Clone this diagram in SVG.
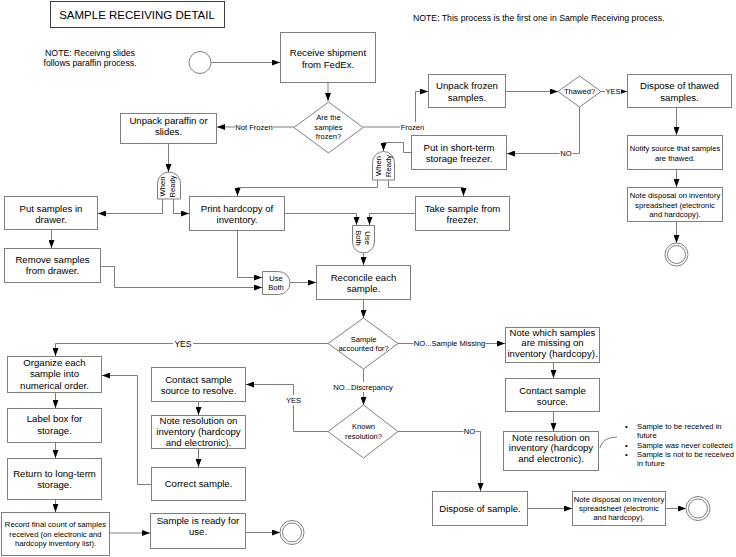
<svg xmlns="http://www.w3.org/2000/svg" width="736" height="557" viewBox="0 0 736 557">
<style>
.box{fill:#fff;stroke:#7f7f7f;stroke-width:1}
.ttl{fill:#fff;stroke:#404040;stroke-width:1}
.t{font-family:"Liberation Sans",Arial,sans-serif;font-size:9.6px;text-anchor:middle;fill:#000}
.s{font-size:7.6px}
.m{font-size:7.7px}
.n{font-family:"Liberation Sans",Arial,sans-serif;font-size:8.7px;fill:#000}
.c{fill:none;stroke:#7f7f7f;stroke-width:1}
.a{marker-end:url(#ah)}
.bg{fill:#fff}
</style>
<defs>
<marker id="ah" viewBox="0 0 8 6" refX="8" refY="3" markerWidth="8" markerHeight="6" markerUnits="userSpaceOnUse" orient="auto">
<path d="M0,0 L8,3 L0,6 Z" fill="#000"/>
</marker>
</defs>
<rect width="736" height="557" fill="#fff"/>

<g id="title">
<rect class="ttl" x="50.5" y="1.5" width="174" height="26"/>
<text class="t" x="137" y="18.5" style="font-size:11.5px">SAMPLE RECEIVING DETAIL</text>
</g>
<g id="note-top">
<text class="n" x="413" y="21">NOTE: This process is the first one in Sample Receiving process.</text>
</g>
<g id="note-left">
<text class="n" x="90" y="56.3" text-anchor="middle">NOTE: Receivng slides</text>
<text class="n" x="90" y="65.8" text-anchor="middle">follows paraffin process.</text>
</g>

<g id="connectors">
<path class="c a" d="M211,62.5 H280"/>
<path class="c a" d="M328,83 V101"/>
<path class="c a" d="M294,127 H217"/>
<path class="c a" d="M363,127 H415.5 V91.5 H428"/>
<path class="c a" d="M506,91.5 H558"/>
<path class="c a" d="M601,91.5 H627"/>
<path class="c a" d="M579.5,106 V153.5 H507"/>
<path class="c a" d="M411,152.5 H403.5 V142.5 H383.5 V151"/>
<path class="c a" d="M377.5,180 V187.5 H237.5 V196"/>
<path class="c a" d="M388.5,180 V187.5 H463.5 V196"/>
<path class="c a" d="M168.5,144 V172"/>
<path class="c a" d="M162.5,199 V213.5 H98"/>
<path class="c a" d="M173.5,199 V213.5 H189"/>
<path class="c a" d="M51.5,230 V248"/>
<path class="c a" d="M285,213.5 H356.5 V225"/>
<path class="c a" d="M415,213.5 H369.5 V225"/>
<path class="c a" d="M363.5,253 V265"/>
<path class="c a" d="M237.5,231 V277.5 H262"/>
<path class="c a" d="M101,266.5 H114.5 V287.5 H262"/>
<path class="c a" d="M290,282.5 H316"/>
<path class="c a" d="M363.5,300 V318"/>
<path class="c a" d="M328,343.5 H55.5 V356"/>
<path class="c a" d="M398,343.5 H505"/>
<path class="c a" d="M553.5,363 V378"/>
<path class="c a" d="M553.5,412 V431"/>
<path class="c" d="M600,448 C602,440 608,437.5 617,437"/>
<path class="c a" d="M363.5,369 V405"/>
<path class="c a" d="M328,431.5 H293.5 V384.5 H246"/>
<path class="c a" d="M398,431.5 H480.5 V491"/>
<path class="c a" d="M528,508.5 H572"/>
<path class="c a" d="M666,508.5 H686"/>
<path class="c a" d="M55.5,393 V408"/>
<path class="c a" d="M55.5,443 V458"/>
<path class="c a" d="M55.5,500 V512"/>
<path class="c a" d="M110,533 H150"/>
<path class="c a" d="M246,532.5 H280"/>
<path class="c a" d="M198.5,402 V415"/>
<path class="c a" d="M198.5,449 V467"/>
<path class="c a" d="M151,484.5 H137.5 V375.5 H102"/>
<path class="c a" d="M676.5,108 V135"/>
<path class="c a" d="M676.5,170 V187"/>
<path class="c a" d="M676.5,222 V243"/>

<rect class="bg" x="235" y="122" width="38" height="10"/>
<text class="t s" x="254" y="129.8">Not Frozen</text>
<rect class="bg" x="400" y="122" width="25" height="10"/>
<text class="t s" x="412.5" y="129.8">Frozen</text>
<rect class="bg" x="605" y="86.5" width="16" height="10"/>
<text class="t s" x="613" y="94.3">YES</text>
<rect class="bg" x="559.5" y="148.5" width="13" height="10"/>
<text class="t s" x="566" y="156.3">NO</text>
<rect class="bg" x="173" y="338" width="20" height="11"/>
<text class="t" x="183" y="346.5" style="font-size:8.6px">YES</text>
<rect class="bg" x="413.5" y="338.5" width="72" height="10"/>
<text class="t s" x="449.5" y="346.3">NO...Sample Missing</text>
<rect class="bg" x="333" y="382" width="60" height="10"/>
<text class="t s" x="363" y="389.8">NO...Discrepancy</text>
<rect class="bg" x="285.5" y="395" width="16" height="10"/>
<text class="t s" x="293.5" y="402.8">YES</text>
<rect class="bg" x="463.5" y="426" width="12" height="10"/>
<text class="t s" x="469.5" y="433.8">NO</text>
</g>

<g id="start">
<circle cx="200" cy="62.5" r="11" fill="#fff" stroke="#7f7f7f"/>
</g>
<g id="receive">
<rect class="box" x="280.5" y="32.5" width="95" height="50"/>
<text class="t" x="328" y="56.2">Receive shipment</text>
<text class="t" x="328" y="67.6">from FedEx.</text>
</g>
<g id="frozen-q">
<polygon class="box" points="328.5,102 363,127.5 328.5,153 294,127.5"/>
<text class="t s" x="328.5" y="120">Are the</text>
<text class="t s" x="328.5" y="129.5">samples</text>
<text class="t s" x="328.5" y="139">frozen?</text>
</g>
<g id="unpack-paraffin">
<rect class="box" x="120.5" y="113.5" width="96" height="30"/>
<text class="t" x="168.5" y="124.2">Unpack paraffin or</text>
<text class="t" x="168.5" y="135.2">slides.</text>
</g>
<g id="unpack-frozen">
<rect class="box" x="428.5" y="74.5" width="77" height="33"/>
<text class="t" x="467" y="88.6">Unpack frozen</text>
<text class="t" x="467" y="100.6">samples.</text>
</g>
<g id="thawed-q">
<polygon class="box" points="579.5,76 601,91.5 579.5,107 558,91.5"/>
<text class="t s" x="579.5" y="94.3">Thawed?</text>
</g>
<g id="dispose-thawed">
<rect class="box" x="627.5" y="74.5" width="104" height="33"/>
<text class="t" x="679.5" y="88.6">Dispose of thawed</text>
<text class="t" x="679.5" y="100.6">samples.</text>
</g>
<g id="notify">
<rect class="box" x="627.5" y="135.5" width="95" height="34"/>
<text class="t m" x="675" y="151.3">Notify source that samples</text>
<text class="t m" x="675" y="161">are thawed.</text>
</g>
<g id="note-disposal-top">
<rect class="box" x="627.5" y="187.5" width="95" height="34"/>
<text class="t m" x="675" y="198">Note disposal on inventory</text>
<text class="t m" x="675" y="207.5">spreadsheet (electronic</text>
<text class="t m" x="675" y="217">and hardcopy).</text>
</g>
<g id="end-top">
<circle cx="676.5" cy="254.5" r="11.5" fill="#fff" stroke="#7f7f7f"/>
<circle cx="676.5" cy="254.5" r="9" fill="none" stroke="#7f7f7f"/>
</g>
<g id="short-term">
<rect class="box" x="411.5" y="135.5" width="95" height="34"/>
<text class="t" x="459" y="150.6">Put in short-term</text>
<text class="t" x="459" y="161.8">storage freezer.</text>
</g>
<g id="when-ready-right">
<path class="box" d="M372.5,180 V162.5 A11,11 0 0 1 394.5,162.5 V180 Z"/>
<text class="t s" transform="translate(383.5,166) rotate(-90)"><tspan x="0" y="-2.8">When</tspan><tspan x="0" y="7.2">Ready</tspan></text>
</g>
<g id="when-ready-left">
<path class="box" d="M157.5,199 V183.5 A11.5,11.5 0 0 1 180.5,183.5 V199 Z"/>
<text class="t s" transform="translate(168,186.5) rotate(-90)"><tspan x="0" y="-2.8">When</tspan><tspan x="0" y="7.2">Ready</tspan></text>
</g>
<g id="put-drawer">
<rect class="box" x="4.5" y="196.5" width="93" height="33"/>
<text class="t" x="51" y="211.5">Put samples in</text>
<text class="t" x="51" y="223">drawer.</text>
</g>
<g id="print-hardcopy">
<rect class="box" x="189.5" y="196.5" width="95" height="34"/>
<text class="t" x="237" y="211.5">Print hardcopy of</text>
<text class="t" x="237" y="223">inventory.</text>
</g>
<g id="take-sample">
<rect class="box" x="415.5" y="196.5" width="94" height="34"/>
<text class="t" x="462.5" y="211.5">Take sample from</text>
<text class="t" x="462.5" y="223">freezer.</text>
</g>
<g id="remove-drawer">
<rect class="box" x="4.5" y="248.5" width="96" height="34"/>
<text class="t" x="52.5" y="262.5">Remove samples</text>
<text class="t" x="52.5" y="274">from drawer.</text>
</g>
<g id="use-both-v">
<path class="box" d="M352.5,225.5 H374.5 V242 A11,11 0 0 1 352.5,242 Z"/>
<text class="t s" transform="translate(363.5,238) rotate(90)"><tspan x="0" y="-1.5">Use</tspan><tspan x="0" y="8">Both</tspan></text>
</g>
<g id="use-both-h">
<path class="box" d="M262.5,271.5 H278.5 A11.5,11.5 0 0 1 278.5,294.5 H262.5 Z"/>
<text class="t s" x="276" y="280.5">Use</text>
<text class="t s" x="276" y="289.7">Both</text>
</g>
<g id="reconcile">
<rect class="box" x="316.5" y="265.5" width="94" height="34"/>
<text class="t" x="363.5" y="280.5">Reconcile each</text>
<text class="t" x="363.5" y="291.7">sample.</text>
</g>
<g id="accounted-q">
<polygon class="box" points="363.5,318 398,343.5 363.5,369 328,343.5"/>
<text class="t s" x="363.5" y="342">Sample</text>
<text class="t s" x="363.5" y="351">accounted for?</text>
</g>
<g id="note-missing">
<rect class="box" x="505.5" y="327.5" width="94" height="35"/>
<text class="t" x="552.5" y="335.5">Note which samples</text>
<text class="t" x="552.5" y="346">are missing on</text>
<text class="t" x="552.5" y="357">inventory (hardcopy).</text>
</g>
<g id="contact-source">
<rect class="box" x="505.5" y="378.5" width="94" height="33"/>
<text class="t" x="552.5" y="393.5">Contact sample</text>
<text class="t" x="552.5" y="405">source.</text>
</g>
<g id="note-resolution-right">
<rect class="box" x="503.5" y="431.5" width="95" height="39"/>
<text class="t" x="551" y="440.5">Note resolution on</text>
<text class="t" x="551" y="451">inventory (hardcopy</text>
<text class="t" x="551" y="462">and electronic).</text>
</g>
<g id="reasons">
<text class="n" x="625" y="428.6" style="font-size:7.7px">•</text>
<text class="n" x="637" y="428.6" style="font-size:7.7px">Sample to be received in</text>
<text class="n" x="637" y="437.8" style="font-size:7.7px">future</text>
<text class="n" x="625" y="447.8" style="font-size:7.7px">•</text>
<text class="n" x="637" y="447.8" style="font-size:7.7px">Sample was never collected</text>
<text class="n" x="625" y="456.8" style="font-size:7.7px">•</text>
<text class="n" x="637" y="456.8" style="font-size:7.7px">Sample is not to be received</text>
<text class="n" x="637" y="466" style="font-size:7.7px">in future</text>
</g>
<g id="known-q">
<polygon class="box" points="363.5,405 398,431.5 363.5,458 328,431.5"/>
<text class="t s" x="363.5" y="428.8">Known</text>
<text class="t s" x="363.5" y="438.8">resolution?</text>
</g>
<g id="dispose-sample">
<rect class="box" x="432.5" y="491.5" width="95" height="34"/>
<text class="t" x="480" y="511.8">Dispose of sample.</text>
</g>
<g id="note-disposal-bottom">
<rect class="box" x="572.5" y="491.5" width="93" height="34"/>
<text class="t m" x="619" y="502">Note disposal on inventory</text>
<text class="t m" x="619" y="511">spreadsheet (electronic</text>
<text class="t m" x="619" y="520">and hardcopy).</text>
</g>
<g id="end-bottom-right">
<circle cx="698" cy="508.5" r="12" fill="#fff" stroke="#7f7f7f"/>
<circle cx="698" cy="508.5" r="9.5" fill="none" stroke="#7f7f7f"/>
</g>
<g id="organize">
<rect class="box" x="7.5" y="356.5" width="94" height="36"/>
<text class="t" x="54.5" y="365.5">Organize each</text>
<text class="t" x="54.5" y="377">sample into</text>
<text class="t" x="54.5" y="388.5">numerical order.</text>
</g>
<g id="label-box">
<rect class="box" x="7.5" y="408.5" width="94" height="34"/>
<text class="t" x="54.5" y="421.5">Label box for</text>
<text class="t" x="54.5" y="434">storage.</text>
</g>
<g id="return">
<rect class="box" x="7.5" y="458.5" width="94" height="41"/>
<text class="t" x="54.5" y="476.5">Return to long-term</text>
<text class="t" x="54.5" y="487.8">storage.</text>
</g>
<g id="record">
<rect class="box" x="1.5" y="512.5" width="108" height="43"/>
<text class="t m" x="55.5" y="527">Record final count of samples</text>
<text class="t m" x="55.5" y="536.5">received (on electronic and</text>
<text class="t m" x="55.5" y="546">hardcopy inventory list).</text>
</g>
<g id="ready">
<rect class="box" x="150.5" y="513.5" width="95" height="35"/>
<text class="t" x="198" y="524.2">Sample is ready for</text>
<text class="t" x="198" y="535.2">use.</text>
</g>
<g id="end-bottom-left">
<circle cx="292" cy="532.5" r="12" fill="#fff" stroke="#7f7f7f"/>
<circle cx="292" cy="532.5" r="9.5" fill="none" stroke="#7f7f7f"/>
</g>
<g id="contact-resolve">
<rect class="box" x="151.5" y="367.5" width="94" height="34"/>
<text class="t" x="198.5" y="382.5">Contact sample</text>
<text class="t" x="198.5" y="393.7">source to resolve.</text>
</g>
<g id="note-resolution-mid">
<rect class="box" x="151.5" y="415.5" width="94" height="33"/>
<text class="t" x="198.5" y="423.5">Note resolution on</text>
<text class="t" x="198.5" y="434.7">inventory (hardcopy</text>
<text class="t" x="198.5" y="446">and electronic).</text>
</g>
<g id="correct">
<rect class="box" x="151.5" y="467.5" width="94" height="33"/>
<text class="t" x="198.5" y="487.3">Correct sample.</text>
</g>
</svg>
